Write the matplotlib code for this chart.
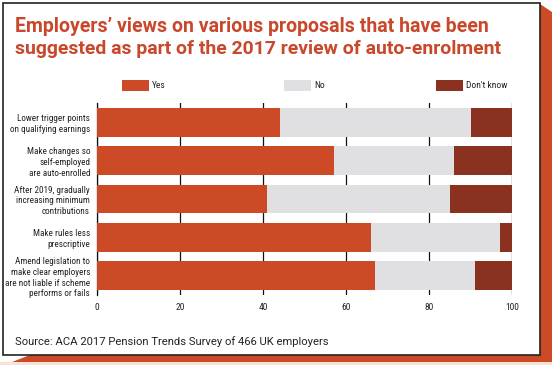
import matplotlib
matplotlib.use("Agg")
import matplotlib.pyplot as plt
from matplotlib import font_manager
from matplotlib.patches import Rectangle, Polygon
import numpy as np

categories = [
    "Lower trigger points\non qualifying earnings",
    "Make changes so\nself-employed\nare auto-enrolled",
    "After 2019, gradually\nincreasing minimum\ncontributions",
    "Make rules less\nprescriptive",
    "Amend legislation to\nmake clear employers\nare not liable if scheme\nperforms or fails",
]
yes = [44, 57, 41, 66, 67]
no = [46, 29, 44, 31, 24]
dont_know = [10, 14, 15, 3, 9]
series_names = ["Yes", "No", "Don't know"]
xticks = [0, 20, 40, 60, 80, 100]

title = "Employers\u2019 views on various proposals that have been\nsuggested as part of the 2017 review of auto-enrolment"
source = "Source: ACA 2017 Pension Trends Survey of 466 UK employers"

c_yes = "#cc4a25"
c_no = "#e0e0e2"
c_dk = "#8a3120"
c_title = "#c9472a"

names = sorted({f.name for f in font_manager.fontManager.ttflist})
narrow = None
for cand in ["Roboto Condensed", "Liberation Sans Narrow", "DejaVu Sans Condensed",
             "Open Sans Condensed", "Noto Sans Condensed", "Arial Narrow"]:
    if cand in names:
        narrow = cand
        break
cond_list = [n for n in names if ("Cond" in n or "Narrow" in n)]
if narrow is None and cond_list:
    narrow = cond_list[0]
if narrow is None:
    narrow = "Roboto" if "Roboto" in names else "DejaVu Sans"
title_font = "Roboto" if "Roboto" in names else "DejaVu Sans"

W, H = 552, 365
fig = plt.figure(figsize=(W / 100, H / 100), dpi=100)
fig.patch.set_facecolor("white")

def px(x, y):
    return (x / W, 1 - y / H)

# shadow / frame
fig.add_artist(Rectangle(px(0, 365), 1, 3 / H, transform=fig.transFigure,
                         facecolor="#f7e3d6", edgecolor="none", zorder=0))
fig.add_artist(Polygon([px(540, 4), px(552, 12), px(552, 362), px(540, 362)],
                       closed=True, transform=fig.transFigure,
                       facecolor=c_yes, edgecolor="none", zorder=0))
fig.add_artist(Polygon([px(12, 362), px(30, 355), px(552, 355), px(552, 362)],
                       closed=True, transform=fig.transFigure,
                       facecolor=c_yes, edgecolor="none", zorder=0))
fig.add_artist(Rectangle(px(2.5, 355), 537.5 / W, 352 / H, transform=fig.transFigure,
                         facecolor="white", edgecolor="#222222", linewidth=1.2, zorder=0.5))

t1 = fig.text(15 / W, 1 - 26 / H, title.split("\n")[0], color=c_title, fontsize=13,
              fontweight="bold", family=title_font, ha="left", va="center")
t2 = fig.text(15 / W, 1 - 49 / H, title.split("\n")[1], color=c_title, fontsize=13,
              fontweight="bold", family=title_font, ha="left", va="center")
ts = fig.text(15 / W, 1 - 342 / H, source, color="#222222", fontsize=8.3,
              family=title_font, ha="left", va="center")

ax = fig.add_axes([97 / W, 1 - 295 / H, 415 / W, 192 / H])
ax.set_zorder(2)
ax.patch.set_alpha(0)
y = np.arange(len(categories))
yes_a, no_a, dk_a = np.array(yes), np.array(no), np.array(dont_know)
h = 0.75
ax.barh(y, yes_a, height=h, color=c_yes, zorder=3)
ax.barh(y, no_a, left=yes_a, height=h, color=c_no, zorder=3)
ax.barh(y, dk_a, left=yes_a + no_a, height=h, color=c_dk, zorder=3)
ax.set_xlim(0, 100)
ax.set_ylim(len(categories) - 0.5, -0.5)
ax.set_xticks(xticks)
ax.set_xticklabels([str(t) for t in xticks], family=narrow, fontsize=6.8, color="#222222")
ax.set_yticks(y)
ax.set_yticklabels(categories, family=narrow, fontsize=6.2, color="#222222", linespacing=1.25)
ax.tick_params(axis="both", length=0)
ax.tick_params(axis="x", pad=6)
ax.tick_params(axis="y", pad=5)
ax.xaxis.grid(True, color="#111111", linewidth=0.9, zorder=1)
ax.set_axisbelow(True)
for s in ["top", "right", "bottom"]:
    ax.spines[s].set_visible(False)
ax.spines["left"].set_color("#111111")
ax.spines["left"].set_linewidth(0.9)

# legend
leg_x = [122, 284, 436]
for name, col, lx in zip(series_names, [c_yes, c_no, c_dk], leg_x):
    fig.add_artist(Rectangle(px(lx, 91), 27 / W, 10.5 / H, transform=fig.transFigure,
                             facecolor=col, edgecolor="none", zorder=3))
    fig.text((lx + 30) / W, 1 - 85 / H, name, family=narrow, fontsize=6.8,
             color="#222222", ha="left", va="center")

# fit text widths to the reference
fig.canvas.draw()
r = fig.canvas.get_renderer()
def fit(t, target):
    w = t.get_window_extent(r).width
    t.set_fontsize(t.get_fontsize() * target / w)
fit(t1, 475)
fit(t2, 485)
fit(ts, 315)
# y labels: widest line should fit inside the card
maxw = max(lab.get_window_extent(r).width for lab in ax.get_yticklabels())
fs = 6.2 * 84 / maxw
for lab in ax.get_yticklabels():
    lab.set_fontsize(min(fs, 6.8))

fig.savefig("out.png", dpi=100)
